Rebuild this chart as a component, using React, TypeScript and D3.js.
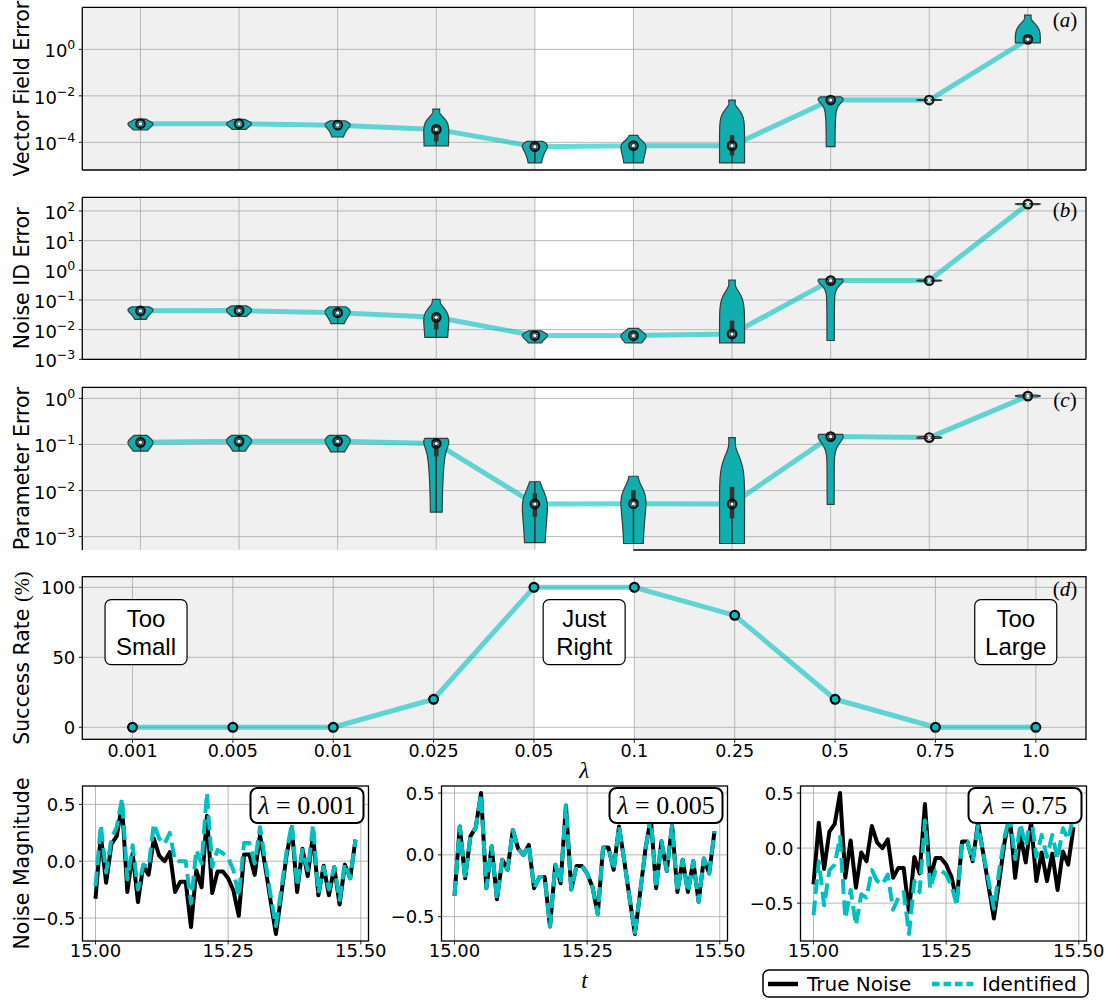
import React from "react";
import * as d3 from "d3";

// ---------- data ----------
const LAMBDAS = ["0.001", "0.005", "0.01", "0.025", "0.05", "0.1", "0.25", "0.5", "0.75", "1.0"];

// five runs per regularisation strength
const VECTOR_FIELD_ERROR: number[][] = [
  [3.4e-4, 5.6e-4, 6.3e-4, 7.1e-4, 1.0e-3],
  [3.6e-4, 5.8e-4, 6.3e-4, 7.2e-4, 9.8e-4],
  [1.7e-4, 4.5e-4, 5.5e-4, 6.3e-4, 8.5e-4],
  [7.1e-5, 1.1e-4, 3.6e-4, 5.0e-4, 2.7e-3],
  [1.3e-5, 4.8e-5, 6.5e-5, 8.3e-5, 1.1e-4],
  [1.3e-5, 4.5e-5, 7.2e-5, 9.3e-5, 2.0e-4],
  [1.3e-5, 2.8e-5, 7.2e-5, 2.0e-4, 6.6e-3],
  [6.5e-5, 5.0e-3, 6.6e-3, 7.6e-3, 9.1e-3],
  [6.3e-3, 6.5e-3, 6.6e-3, 6.8e-3, 6.9e-3],
  [1.9, 2.2, 2.7, 4.0, 30],
];

const NOISE_ID_ERROR: number[][] = [
  [0.022, 0.038, 0.043, 0.05, 0.059],
  [0.028, 0.04, 0.044, 0.053, 0.063],
  [0.016, 0.033, 0.037, 0.048, 0.059],
  [0.0055, 0.01, 0.026, 0.035, 0.105],
  [0.0036, 0.0056, 0.0063, 0.0071, 0.0091],
  [0.0036, 0.0056, 0.0063, 0.0076, 0.011],
  [0.0036, 0.005, 0.0071, 0.02, 0.47],
  [0.0043, 0.35, 0.45, 0.48, 0.5],
  [0.43, 0.44, 0.45, 0.46, 0.47],
  [162, 166, 170, 174, 178],
];

const PARAMETER_ERROR: number[][] = [
  [0.072, 0.1, 0.111, 0.126, 0.158],
  [0.072, 0.105, 0.117, 0.132, 0.158],
  [0.069, 0.1, 0.117, 0.135, 0.158],
  [0.0034, 0.055, 0.105, 0.126, 0.135],
  [0.00074, 0.0027, 0.0051, 0.0087, 0.0155],
  [0.00071, 0.005, 0.0052, 0.0102, 0.0204],
  [0.00071, 0.0025, 0.0051, 0.012, 0.141],
  [0.005, 0.126, 0.148, 0.158, 0.166],
  [0.135, 0.138, 0.141, 0.145, 0.148],
  [1.07, 1.1, 1.12, 1.15, 1.17],
];

const SUCCESS_RATE = [0, 0, 0, 20, 100, 100, 80, 20, 0, 0];

const TIME = [
  15.0, 15.01, 15.02, 15.03, 15.04, 15.05, 15.06, 15.07, 15.08, 15.09,
  15.1, 15.11, 15.12, 15.13, 15.14, 15.15, 15.16, 15.17, 15.18, 15.19,
  15.2, 15.21, 15.22, 15.23, 15.24, 15.25, 15.26, 15.27, 15.28, 15.29,
  15.3, 15.31, 15.32, 15.33, 15.34, 15.35, 15.36, 15.37, 15.38, 15.39,
  15.4, 15.41, 15.42, 15.43, 15.44, 15.45, 15.46, 15.47, 15.48, 15.49,
];

const TRUE_NOISE = [
  -0.33, 0.23, -0.19, 0.15, 0.22, 0.5, -0.27, 0.07, -0.36, -0.04,
  -0.12, 0.2, 0.05, 0.0, 0.08, -0.27, -0.18, -0.18, -0.58, -0.08,
  -0.23, 0.4, -0.28, -0.09, -0.09, -0.15, -0.26, -0.48, 0.06, 0.06,
  -0.12, 0.23, -0.05, -0.35, -0.64, -0.3, 0.05, 0.3, -0.27, 0.11,
  -0.13, 0.24, -0.3, -0.04, -0.3, -0.05, -0.38, -0.03, -0.15, 0.19,
];

const IDENTIFIED_0001 = [
  -0.22, 0.32, -0.1, 0.2, 0.3, 0.55, -0.16, 0.14, -0.25, -0.03,
  -0.05, 0.33, 0.2, 0.15, 0.25, 0.0, 0.0, 0.0, -0.37, 0.1,
  -0.02, 0.6, -0.05, 0.1, 0.07, 0.03, -0.08, -0.31, 0.16, 0.16,
  -0.02, 0.3, 0.0, -0.3, -0.57, -0.25, 0.08, 0.33, -0.22, 0.1,
  -0.08, 0.32, -0.28, -0.05, -0.25, -0.05, -0.34, -0.02, -0.15, 0.19,
];

const IDENTIFIED_0005 = [
  -0.33, 0.23, -0.19, 0.15, 0.22, 0.49, -0.27, 0.07, -0.36, -0.04,
  -0.12, 0.2, 0.05, 0.0, 0.08, -0.27, -0.18, -0.18, -0.58, -0.08,
  -0.23, 0.4, -0.28, -0.09, -0.09, -0.15, -0.26, -0.48, 0.06, 0.06,
  -0.12, 0.23, -0.05, -0.35, -0.63, -0.3, 0.05, 0.3, -0.27, 0.11,
  -0.13, 0.24, -0.3, -0.04, -0.3, -0.05, -0.38, -0.03, -0.15, 0.19,
];

const IDENTIFIED_075 = [
  -0.61, -0.12, -0.52, -0.2, -0.15, 0.1, -0.64, -0.38, -0.7, -0.42,
  -0.45, -0.2, -0.3, -0.33, -0.24, -0.56, -0.45, -0.4, -0.78, -0.3,
  -0.4, 0.25, -0.37, -0.2, -0.2, -0.24, -0.34, -0.52, 0.05, 0.06,
  -0.12, 0.2, -0.05, -0.3, -0.55, -0.2, 0.1, 0.3, -0.1, 0.22,
  0.02, 0.3, -0.08, 0.12, -0.08, 0.12, -0.1, 0.18, 0.08, 0.3,
];

const NOISE_PANELS = [
  { lambda: "0.001", identified: IDENTIFIED_0001 },
  { lambda: "0.005", identified: IDENTIFIED_0005 },
  { lambda: "0.75", identified: IDENTIFIED_075 },
];

const REGIME_NOTES = [
  { lines: ["Too", "Small"], at: 0.135 },
  { lines: ["Just", "Right"], at: 4.5 },
  { lines: ["Too", "Large"], at: 8.8 },
];

// ---------- styling ----------
const SANS = "'DejaVu Sans', Verdana, sans-serif";
const ARIAL = "'Liberation Sans', Arial, sans-serif";
const SERIF = "'Liberation Serif', 'DejaVu Serif', serif";
const CYAN = "#00bfbf";
const VIOLIN_FILL = "#10aeae";
const VIOLIN_EDGE = "#3a3a3a";
const INNER = "#333333";
const PANEL_BG = "#f0f0f0";
const GRID = "#b0b0b0";
const LEFT = 82.3;
const RIGHT = 1086;
const HALF_WIDTH = 12.5;

type LogScale = d3.ScaleLogarithmic<number, number>;

// Gaussian KDE on the raw values (Scott bandwidth), evaluated on 100 evenly spaced
// points between min and max, width-normalised and drawn on the log axis.
function violinPath(values: number[], cx: number, y: LogScale): string {
  const bw = (d3.deviation(values) ?? 1e-9) * Math.pow(values.length, -0.2);
  const lo = d3.min(values)!;
  const hi = d3.max(values)!;
  const grid = d3.range(100).map((i) => lo + ((hi - lo) * i) / 99);
  const dens = grid.map((g) => d3.sum(values, (s) => Math.exp(-0.5 * ((g - s) / bw) ** 2)));
  const peak = d3.max(dens)!;
  const profile = grid.map((g, i) => ({ v: g, w: (dens[i] / peak) * HALF_WIDTH }));
  return (
    d3
      .area<{ v: number; w: number }>()
      .y((d) => y(d.v))
      .x0((d) => cx - d.w)
      .x1((d) => cx + d.w)(profile) ?? ""
  );
}

function boxStats(valuesIn: number[]) {
  const v = valuesIn.slice().sort(d3.ascending);
  const q1 = d3.quantileSorted(v, 0.25)!;
  const q2 = d3.quantileSorted(v, 0.5)!;
  const q3 = d3.quantileSorted(v, 0.75)!;
  const reach = 1.5 * (q3 - q1);
  const lowAdj = d3.min(v.filter((d) => d >= q1 - reach))!;
  const highAdj = d3.max(v.filter((d) => d <= q3 + reach))!;
  return { q1, q2, q3, lowAdj, highAdj };
}

function PowerLabel({ x, y, exp }: { x: number; y: number; exp: number }) {
  return (
    <text x={x} y={y} textAnchor="end" fontFamily={SANS} fontSize={18} fill="#000">
      10
      <tspan dy={-8} fontSize={12.5}>
        {exp < 0 ? `\u2212${-exp}` : `${exp}`}
      </tspan>
    </text>
  );
}

function PanelTag({ x, y, letter }: { x: number; y: number; letter: string }) {
  return (
    <text x={x} y={y} textAnchor="middle" fontFamily={SERIF} fontSize={21}>
      (<tspan fontStyle="italic">{letter}</tspan>)
    </text>
  );
}

type LogPanelSpec = {
  tag: string;
  label: string;
  data: number[][];
  top: number;
  bottom: number;
  domain: [number, number];
  ticks: number[];
  partialBottom?: boolean;
};

function LogPanel({ spec, x }: { spec: LogPanelSpec; x: d3.ScalePoint<string> }) {
  const y = d3.scaleLog().domain(spec.domain).range([spec.bottom, spec.top]);
  const medians = spec.data.map((d) => d3.median(d)!);
  const line = d3
    .line<number>()
    .x((_, i) => x(LAMBDAS[i])!)
    .y((d) => y(d))(medians);
  const bandX0 = x("0.05")!;
  const bandX1 = x("0.1")!;
  const h = spec.bottom - spec.top;
  return (
    <g>
      <rect x={LEFT} y={spec.top} width={RIGHT - LEFT} height={h} fill={PANEL_BG} />
      <rect x={bandX0} y={spec.top} width={bandX1 - bandX0} height={h} fill="#ffffff" />
      {LAMBDAS.map((l) => (
        <line key={l} x1={x(l)} x2={x(l)} y1={spec.top} y2={spec.bottom} stroke={GRID} strokeWidth={0.9} />
      ))}
      {spec.ticks.map((t) => (
        <line key={t} x1={LEFT} x2={RIGHT} y1={y(t)} y2={y(t)} stroke={GRID} strokeWidth={0.9} />
      ))}
      <path d={line ?? ""} fill="none" stroke={CYAN} strokeOpacity={0.6} strokeWidth={5} strokeLinejoin="round" />
      {spec.data.map((vals, i) => {
        const cx = x(LAMBDAS[i])!;
        const s = boxStats(vals);
        return (
          <g key={i}>
            <path d={violinPath(vals, cx, y)} fill={VIOLIN_FILL} stroke={VIOLIN_EDGE} strokeWidth={1.2} />
            <line x1={cx} x2={cx} y1={y(s.lowAdj)} y2={y(s.highAdj)} stroke={INNER} strokeWidth={1.5} />
            <line x1={cx} x2={cx} y1={y(s.q1)} y2={y(s.q3)} stroke={INNER} strokeWidth={4.5} />
            <circle cx={cx} cy={y(s.q2)} r={1.6} fill="#ffffff" />
          </g>
        );
      })}
      {medians.map((m, i) => (
        <circle key={i} cx={x(LAMBDAS[i])} cy={y(m)} r={4.3} fill="none" stroke="#111" strokeWidth={2.2} />
      ))}
      <line x1={LEFT} x2={RIGHT} y1={spec.top} y2={spec.top} stroke="#000" strokeWidth={1.3} />
      <line x1={LEFT} x2={LEFT} y1={spec.top} y2={spec.bottom} stroke="#000" strokeWidth={1.3} />
      <line x1={RIGHT} x2={RIGHT} y1={spec.top} y2={spec.bottom} stroke="#000" strokeWidth={1.3} />
      <line
        x1={spec.partialBottom ? bandX1 : LEFT}
        x2={RIGHT}
        y1={spec.bottom}
        y2={spec.bottom}
        stroke="#000"
        strokeWidth={1.3}
      />
      {spec.ticks.map((t) => (
        <g key={`tk${t}`}>
          <line x1={LEFT - 3.5} x2={LEFT} y1={y(t)} y2={y(t)} stroke="#000" strokeWidth={0.9} />
          <PowerLabel x={LEFT - 7} y={y(t) + 8} exp={Math.round(Math.log10(t))} />
        </g>
      ))}
      <text
        transform={`translate(22,${(spec.top + spec.bottom) / 2}) rotate(-90)`}
        textAnchor="middle"
        dominantBaseline="central"
        fontFamily={SANS}
        fontSize={20.5}
      >
        {spec.label}
      </text>
      <PanelTag x={1065} y={spec.top + 20} letter={spec.tag} />
    </g>
  );
}

function SuccessPanel({ x }: { x: d3.ScalePoint<string> }) {
  const top = 576.7;
  const bottom = 739.3;
  const y = d3.scaleLinear().domain([-8.6, 107.6]).range([bottom, top]);
  const line = d3
    .line<number>()
    .x((_, i) => x(LAMBDAS[i])!)
    .y((d) => y(d))(SUCCESS_RATE);
  const bandX0 = x("0.05")!;
  const bandX1 = x("0.1")!;
  const step = x.step();
  const x0 = x(LAMBDAS[0])!;
  return (
    <g>
      <rect x={LEFT} y={top} width={RIGHT - LEFT} height={bottom - top} fill={PANEL_BG} />
      <rect x={bandX0} y={top} width={bandX1 - bandX0} height={bottom - top} fill="#ffffff" />
      {LAMBDAS.map((l) => (
        <line key={l} x1={x(l)} x2={x(l)} y1={top} y2={bottom} stroke={GRID} strokeWidth={0.9} />
      ))}
      {[0, 50, 100].map((t) => (
        <line key={t} x1={LEFT} x2={RIGHT} y1={y(t)} y2={y(t)} stroke={GRID} strokeWidth={0.9} />
      ))}
      <path d={line ?? ""} fill="none" stroke={CYAN} strokeOpacity={0.6} strokeWidth={5} strokeLinejoin="round" />
      {SUCCESS_RATE.map((v, i) => (
        <circle key={i} cx={x(LAMBDAS[i])} cy={y(v)} r={4.4} fill={CYAN} stroke="#000" strokeWidth={2.2} />
      ))}
      {REGIME_NOTES.map((n) => {
        const cx = x0 + n.at * step;
        const cy = y(68);
        return (
          <g key={n.lines.join(" ")}>
            <rect x={cx - 41} y={cy - 32.5} width={82} height={65} rx={6} fill="#fff" stroke="#000" strokeWidth={1.2} />
            <text x={cx} y={cy - 5} textAnchor="middle" fontFamily={ARIAL} fontSize={24}>
              {n.lines[0]}
            </text>
            <text x={cx} y={cy + 23} textAnchor="middle" fontFamily={ARIAL} fontSize={24}>
              {n.lines[1]}
            </text>
          </g>
        );
      })}
      <rect x={LEFT} y={top} width={RIGHT - LEFT} height={bottom - top} fill="none" stroke="#000" strokeWidth={1.3} />
      {[0, 50, 100].map((t) => (
        <g key={`yt${t}`}>
          <line x1={LEFT - 3.5} x2={LEFT} y1={y(t)} y2={y(t)} stroke="#000" strokeWidth={0.9} />
          <text x={LEFT - 7} y={y(t) + 6.5} textAnchor="end" fontFamily={SANS} fontSize={18}>
            {t}
          </text>
        </g>
      ))}
      {LAMBDAS.map((l) => (
        <g key={`xt${l}`}>
          <line x1={x(l)} x2={x(l)} y1={bottom} y2={bottom + 3.5} stroke="#000" strokeWidth={0.9} />
          <text x={x(l)} y={756.5} textAnchor="middle" fontFamily={SANS} fontSize={17.5}>
            {l}
          </text>
        </g>
      ))}
      <text
        transform={`translate(22,${(top + bottom) / 2}) rotate(-90)`}
        textAnchor="middle"
        dominantBaseline="central"
        fontFamily={SANS}
        fontSize={20.5}
      >
        Success Rate <tspan fontFamily={SERIF}>(%)</tspan>
      </text>
      <text x={(LEFT + RIGHT) / 2} y={778} textAnchor="middle" fontFamily={SERIF} fontStyle="italic" fontSize={23}>
        λ
      </text>
      <PanelTag x={1065} y={top + 19} letter="d" />
    </g>
  );
}

function NoisePanel({
  left,
  lambda,
  identified,
  showYLabel,
}: {
  left: number;
  lambda: string;
  identified: number[];
  showYLabel: boolean;
}) {
  const width = 286;
  const top = 786;
  const bottom = 941;
  const right = left + width;
  const [t0, t1] = d3.extent(TIME) as [number, number];
  const tPad = (t1 - t0) * 0.05;
  const x = d3.scaleLinear().domain([t0 - tPad, t1 + tPad]).range([left, right]);
  const all = TRUE_NOISE.concat(identified);
  const [v0, v1] = d3.extent(all) as [number, number];
  const vPad = (v1 - v0) * 0.05;
  const y = d3.scaleLinear().domain([v0 - vPad, v1 + vPad]).range([bottom, top]);
  const path = d3
    .line<number>()
    .x((_, i) => x(TIME[i]))
    .y((d) => y(d));
  const xTicks = [15.0, 15.25, 15.5];
  const yTicks = [-0.5, 0, 0.5];
  const fmtY = (v: number) => (v < 0 ? `\u2212${Math.abs(v).toFixed(1)}` : v.toFixed(1));
  return (
    <g>
      <rect x={left} y={top} width={width} height={bottom - top} fill="#fff" />
      {xTicks.map((t) => (
        <line key={t} x1={x(t)} x2={x(t)} y1={top} y2={bottom} stroke={GRID} strokeWidth={0.9} />
      ))}
      {yTicks.map((t) => (
        <line key={t} x1={left} x2={right} y1={y(t)} y2={y(t)} stroke={GRID} strokeWidth={0.9} />
      ))}
      <path d={path(TRUE_NOISE) ?? ""} fill="none" stroke="#000" strokeWidth={4} strokeLinejoin="round" />
      <path
        d={path(identified) ?? ""}
        fill="none"
        stroke={CYAN}
        strokeWidth={4}
        strokeDasharray="14.8,6.4"
        strokeLinejoin="round"
      />
      <rect x={right - 118} y={top + 2} width={113} height={35} rx={7} fill="#fff" stroke="#000" strokeWidth={2} />
      <text x={right - 61.5} y={top + 28} textAnchor="middle" fontFamily={SERIF} fontSize={26}>
        <tspan fontStyle="italic">λ</tspan> = {lambda}
      </text>
      <rect x={left} y={top} width={width} height={bottom - top} fill="none" stroke="#000" strokeWidth={1.3} />
      {xTicks.map((t) => (
        <g key={`xt${t}`}>
          <line x1={x(t)} x2={x(t)} y1={bottom} y2={bottom + 3.5} stroke="#000" strokeWidth={0.9} />
          <text x={x(t)} y={957} textAnchor="middle" fontFamily={SANS} fontSize={18}>
            {t.toFixed(2)}
          </text>
        </g>
      ))}
      {yTicks.map((t) => (
        <g key={`yt${t}`}>
          <line x1={left - 3.5} x2={left} y1={y(t)} y2={y(t)} stroke="#000" strokeWidth={0.9} />
          <text x={left - 7} y={y(t) + 6.5} textAnchor="end" fontFamily={SANS} fontSize={18}>
            {fmtY(t)}
          </text>
        </g>
      ))}
      {showYLabel && (
        <text
          transform={`translate(22,${(top + bottom) / 2}) rotate(-90)`}
          textAnchor="middle"
          dominantBaseline="central"
          fontFamily={SANS}
          fontSize={20.5}
        >
          Noise Magnitude
        </text>
      )}
    </g>
  );
}

export default function App() {
  const xTop = d3.scalePoint<string>().domain(LAMBDAS).range([LEFT, RIGHT]).padding(0.59);
  const xSuccess = d3.scalePoint<string>().domain(LAMBDAS).range([LEFT, RIGHT]).padding(0.5);

  const logPanels: LogPanelSpec[] = [
    {
      tag: "a",
      label: "Vector Field Error",
      data: VECTOR_FIELD_ERROR,
      top: 7.3,
      bottom: 170,
      domain: [Math.pow(10, -5.19), Math.pow(10, 1.81)],
      ticks: [1e-4, 1e-2, 1],
    },
    {
      tag: "b",
      label: "Noise ID Error",
      data: NOISE_ID_ERROR,
      top: 197.3,
      bottom: 359.3,
      domain: [1e-3, Math.pow(10, 2.46)],
      ticks: [1e-3, 1e-2, 1e-1, 1, 10, 100],
    },
    {
      tag: "c",
      label: "Parameter Error",
      data: PARAMETER_ERROR,
      top: 387.3,
      bottom: 550,
      domain: [Math.pow(10, -3.29), Math.pow(10, 0.24)],
      ticks: [1e-3, 1e-2, 1e-1, 1],
      partialBottom: true,
    },
  ];

  const noiseLefts = [82.5, 441.5, 800.5];

  return (
    <svg
      width={1120}
      height={1001}
      viewBox="0 0 1120 1001"
      style={{ position: "absolute", left: 0, top: 0, background: "#fff" }}
    >
      <rect x={0} y={0} width={1120} height={1001} fill="#fff" />
      {logPanels.map((p) => (
        <LogPanel key={p.tag} spec={p} x={xTop} />
      ))}
      <SuccessPanel x={xSuccess} />
      {NOISE_PANELS.map((p, i) => (
        <NoisePanel
          key={p.lambda}
          left={noiseLefts[i]}
          lambda={p.lambda}
          identified={p.identified}
          showYLabel={i === 0}
        />
      ))}
      <text x={584.5} y={988} textAnchor="middle" fontFamily={SERIF} fontStyle="italic" fontSize={23}>
        t
      </text>
      <g>
        <rect x={763} y={970} width={325} height={27} rx={6} fill="#fff" stroke="#000" strokeWidth={1.5} />
        <line x1={768} x2={798} y1={984} y2={984} stroke="#000" strokeWidth={4.5} />
        <text x={807} y={991} fontFamily={SANS} fontSize={20}>
          True Noise
        </text>
        <line x1={932} x2={973} y1={984} y2={984} stroke={CYAN} strokeWidth={4.5} strokeDasharray="7.5,4" />
        <text x={982} y={991} fontFamily={SANS} fontSize={20}>
          Identified
        </text>
      </g>
    </svg>
  );
}
